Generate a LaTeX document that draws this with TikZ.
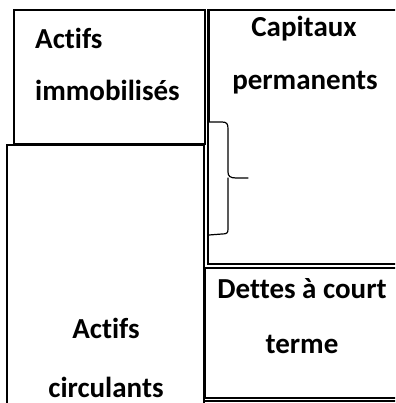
\documentclass[tikz,border=0pt]{standalone}
\usepackage{fontspec}
\setmainfont{Carlito}[Ligatures=NoCommon]
\begin{document}
\begin{tikzpicture}[x=1pt,y=-1pt,
  boxline/.style={draw=black,line width=2pt},
  bracel/.style={line width=1.2pt,line cap=round},
  lbl/.style={font=\fontsize{29}{29}\selectfont\bfseries,inner sep=0pt,anchor=base}]
\useasboundingbox (0,0) rectangle (395,403);
\clip (0,0) rectangle (395,403);
% boxes
\draw[boxline] (14,10) rectangle (205,144);
\draw[boxline] (7,145) rectangle (204,420);
\draw[boxline] (208,10) rectangle (420,264);
\draw[boxline] (205,268) rectangle (420,398);
\draw[boxline] (205,401) -- (420,401);
\draw[line width=3pt] (208,10) -- (208,122);
% brace
\draw[bracel]
  (209,122) -- (222,122) .. controls (227,122) and (228,124) .. (228,129)
  -- (228,172) .. controls (228,176) and (230,178) .. (236,178) -- (248,178);
\draw[bracel]
  (228,178) .. controls (228,180) .. (228,184) -- (228,229)
  .. controls (228,233) and (227,234) .. (222,234) -- (209,235);
% labels
\node[lbl,anchor=base west] (a1) at (35,49) {Actifs};
\node[lbl,anchor=base west] (a2) at (35,101) {immobilisés};
\node[lbl] (c1) at (304,37) {Capitaux};
\node[lbl] (c2) at (305,90) {permanents};
\node[lbl] (d1) at (302,298) {Dettes à court};
\node[lbl] (d2) at (302,353) {terme};
\node[lbl] (e1) at (106,338) {Actifs};
\node[lbl] (e2) at (106,397) {circulants};
\end{tikzpicture}
\end{document}
